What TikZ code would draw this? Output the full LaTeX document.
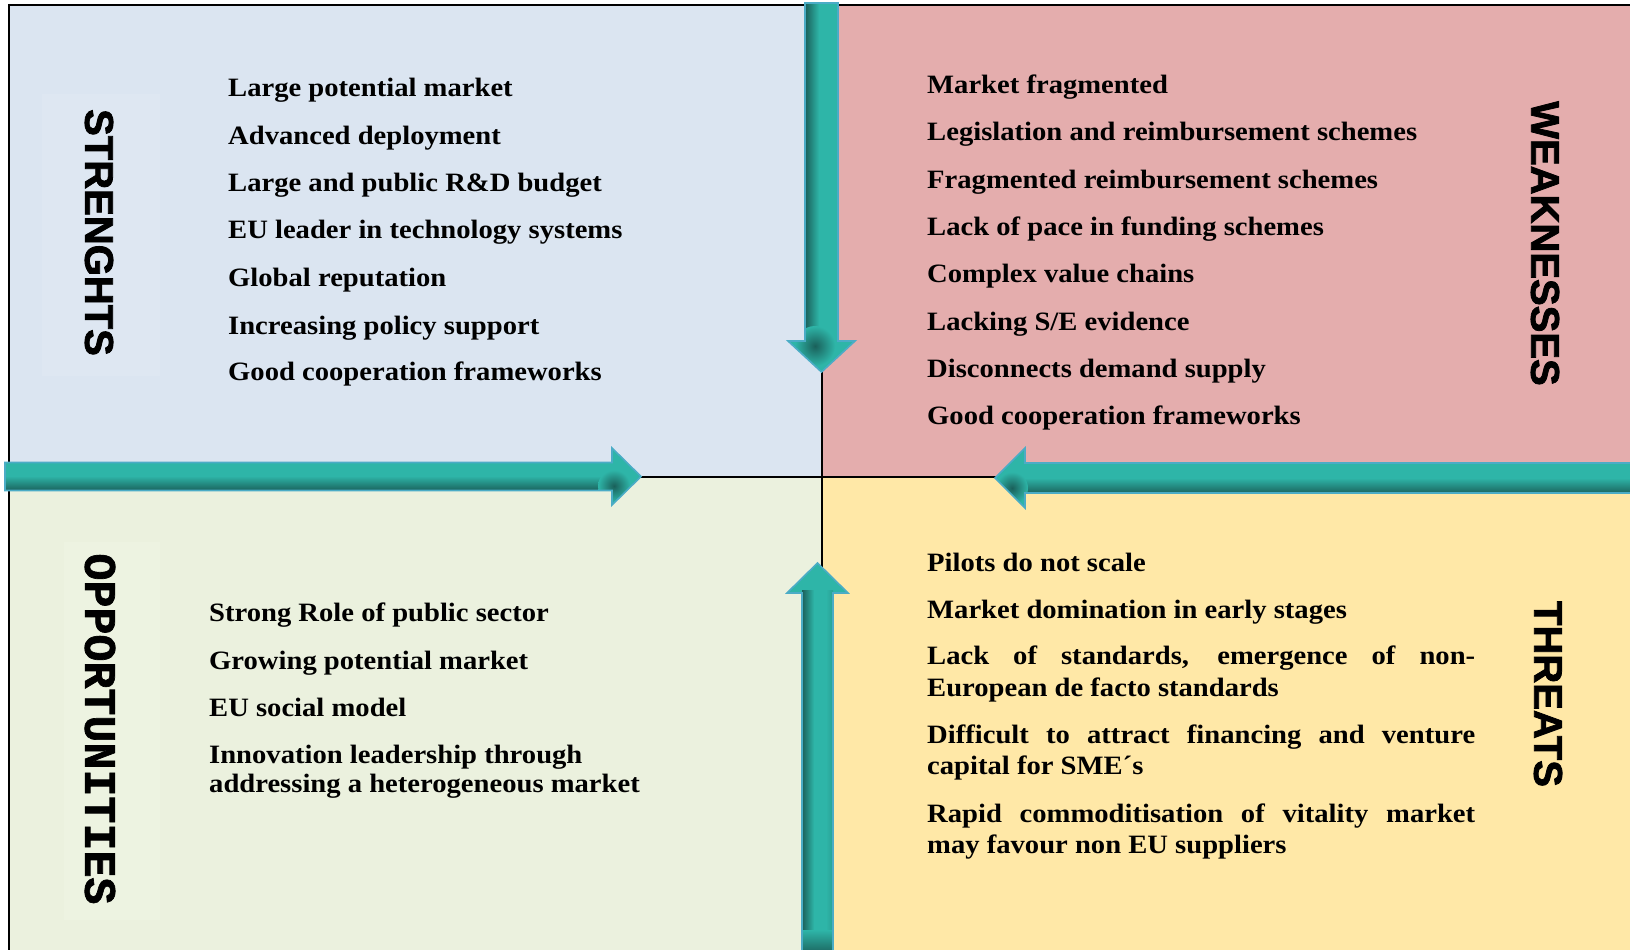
\documentclass[tikz,border=0pt]{standalone}
\usepackage{fontspec}
\setmainfont{Liberation Serif}
\newfontfamily\itemfont{Liberation Serif}[FakeStretch=1.08]
\newfontfamily\headfont{Liberation Sans}[BoldFeatures={FakeBold=2}]
\newfontfamily\monohead{Liberation Mono}[BoldFeatures={FakeBold=1.5}]

\definecolor{bluebg}{HTML}{DBE5F1}
\definecolor{pinkbg}{HTML}{E4ADAD}
\definecolor{greenbg}{HTML}{EBF1DE}
\definecolor{yellowbg}{HTML}{FFE8A7}
\definecolor{tmain}{HTML}{2EB5A8}
\definecolor{tdark}{HTML}{1A605A}
\definecolor{tline}{HTML}{4BACC6}

% arrow outlines (units are pixels, y pointing down)
\def\arrowPathDn{(805,3) -- (838,3) -- (838,341) -- (855,341) -- (821.5,372) -- (788,341) -- (805,341) -- cycle}
\def\arrowPathUp{(802,952) -- (802,593) -- (787,593) -- (817.5,563) -- (848,593) -- (833,593) -- (833,952) -- cycle}
\def\arrowPathRt{(5,462.5) -- (612,462.5) -- (612,448) -- (641,476.5) -- (612,505) -- (612,490.5) -- (5,490.5) -- cycle}
\def\arrowPathLf{(1632,463) -- (1025,463) -- (1025,448) -- (995,478) -- (1025,508) -- (1025,493) -- (1632,493) -- cycle}

\begin{document}
\begin{tikzpicture}[x=1pt,y=-1pt,
  item/.style={anchor=base west, inner sep=0pt,
    font=\itemfont\bfseries\fontsize{26.5}{31}\selectfont},
  sidelabel/.style={inner sep=0pt, rotate=-90,
    font=\headfont\bfseries\fontsize{40}{40}\selectfont},
  monolabel/.style={inner sep=0pt, rotate=-90,
    font=\monohead\bfseries\fontsize{45}{45}\selectfont},
  divider/.style={line width=2pt, black},
  arrowline/.style={draw=tline, line width=1.6pt, line join=miter}
]
\useasboundingbox (0,0) rectangle (1630,950);

% quadrants
\fill[bluebg]   (9,5)   rectangle (822,477);
\fill[pinkbg]   (822,5) rectangle (1630,477);
\fill[greenbg]  (9,477) rectangle (822,950);
\fill[yellowbg] (822,477) rectangle (1630,950);

% faint boxes behind the left-hand headings
\fill[bluebg!93!white]  (42,94)  rectangle (160,376);
\fill[greenbg!90!white] (64,542) rectangle (160,920);

% frame and dividers
\draw[divider] (8,5) -- (1630,5);
\draw[divider] (9,4) -- (9,950);
\draw[divider] (822,5) -- (822,950);
\draw[divider] (9,477) -- (1630,477);

% headings
\node[sidelabel] (lblS) at (99,232.5)  {STRENGHTS};
\node[sidelabel] (lblW) at (1545,243.5) {WEAKNESSES};
\node[sidelabel] (lblT) at (1548,694)  {THREATS};
\node[monolabel] (lblO) at (100,729)   {OPPORTUNITIES};

% strengths
\node[item] (s1) at (228,96.7)  {Large potential market};
\node[item] (s2) at (228,144)   {Advanced deployment};
\node[item] (s3) at (228,191.7) {Large and public R\&D budget};
\node[item] (s4) at (228,238.5) {EU leader in technology systems};
\node[item] (s5) at (228,286)   {Global reputation};
\node[item] (s6) at (228,334)   {Increasing policy support};
\node[item] (s7) at (228,380.7) {Good cooperation frameworks};

% weaknesses
\node[item] (w1) at (927,93.5)  {Market fragmented};
\node[item] (w2) at (927,140.8) {Legislation and reimbursement schemes};
\node[item] (w3) at (927,188.1) {Fragmented reimbursement schemes};
\node[item] (w4) at (927,235.4) {Lack of pace in funding schemes};
\node[item] (w5) at (927,282.7) {Complex value chains};
\node[item] (w6) at (927,330)   {Lacking S/E evidence};
\node[item] (w7) at (927,377.3) {Disconnects demand supply};
\node[item] (w8) at (927,424.6) {Good cooperation frameworks};

% opportunities
\node[item] (o1)  at (209,621.7) {Strong Role of public sector};
\node[item] (o2)  at (209,669)   {Growing potential market};
\node[item] (o3)  at (209,716)   {EU social model};
\node[item] (o4a) at (209,763.3) {Innovation leadership through};
\node[item] (o4b) at (209,792.7) {addressing a heterogeneous market};

% threats (justified paragraphs, 548px wide)
\node[item] (t1)  at (927,571)   {Pilots do not scale};
\node[item] (t2)  at (927,618)   {Market domination in early stages};
\node[item] (t3a) at (927,664.7) {\makebox[548pt][s]{Lack of standards, emergence of non-}};
\node[item] (t3b) at (927,696)   {European de facto standards};
\node[item] (t4a) at (927,743.7) {\makebox[548pt][s]{Difficult to attract financing and venture}};
\node[item] (t4b) at (927,774.8) {capital for SME´s};
\node[item] (t5a) at (927,822.7) {\makebox[548pt][s]{Rapid commoditisation of vitality market}};
\node[item] (t5b) at (927,853.8) {may favour non EU suppliers};

% arrow pointing down
\begin{scope}
  \clip \arrowPathDn;
  \fill[tmain] (780,0) rectangle (860,380);
  \shade[left color=tdark, right color=tmain] (805,0) rectangle (819,341);
  \shade[inner color=tdark, outer color=tmain] (815,346) circle (20);
\end{scope}
\draw[arrowline] \arrowPathDn;

% arrow pointing up
\begin{scope}
  \clip \arrowPathUp;
  \fill[tmain] (780,555) rectangle (855,955);
  \shade[left color=tdark, right color=tmain] (802,590) rectangle (814,955);
  \shade[left color=tmain, right color=tmain!75!tdark] (826,590) rectangle (833,955);
  \shade[top color=tmain, bottom color=tdark] (800,930) rectangle (835,955);
\end{scope}
\draw[arrowline] \arrowPathUp;

% arrow pointing right
\begin{scope}
  \clip \arrowPathRt;
  \fill[tmain] (0,445) rectangle (645,510);
  \shade[top color=tmain, bottom color=tdark] (0,476) rectangle (612,491);
  \shade[inner color=tdark, outer color=tmain] (614,486) circle (16);
\end{scope}
\draw[arrowline] \arrowPathRt;

% arrow pointing left
\begin{scope}
  \clip \arrowPathLf;
  \fill[tmain] (990,445) rectangle (1635,510);
  \shade[top color=tmain, bottom color=tdark] (1025,478) rectangle (1635,494);
  \shade[inner color=tdark, outer color=tmain] (1012,488) circle (16);
\end{scope}
\draw[arrowline] \arrowPathLf;

\end{tikzpicture}
\end{document}
